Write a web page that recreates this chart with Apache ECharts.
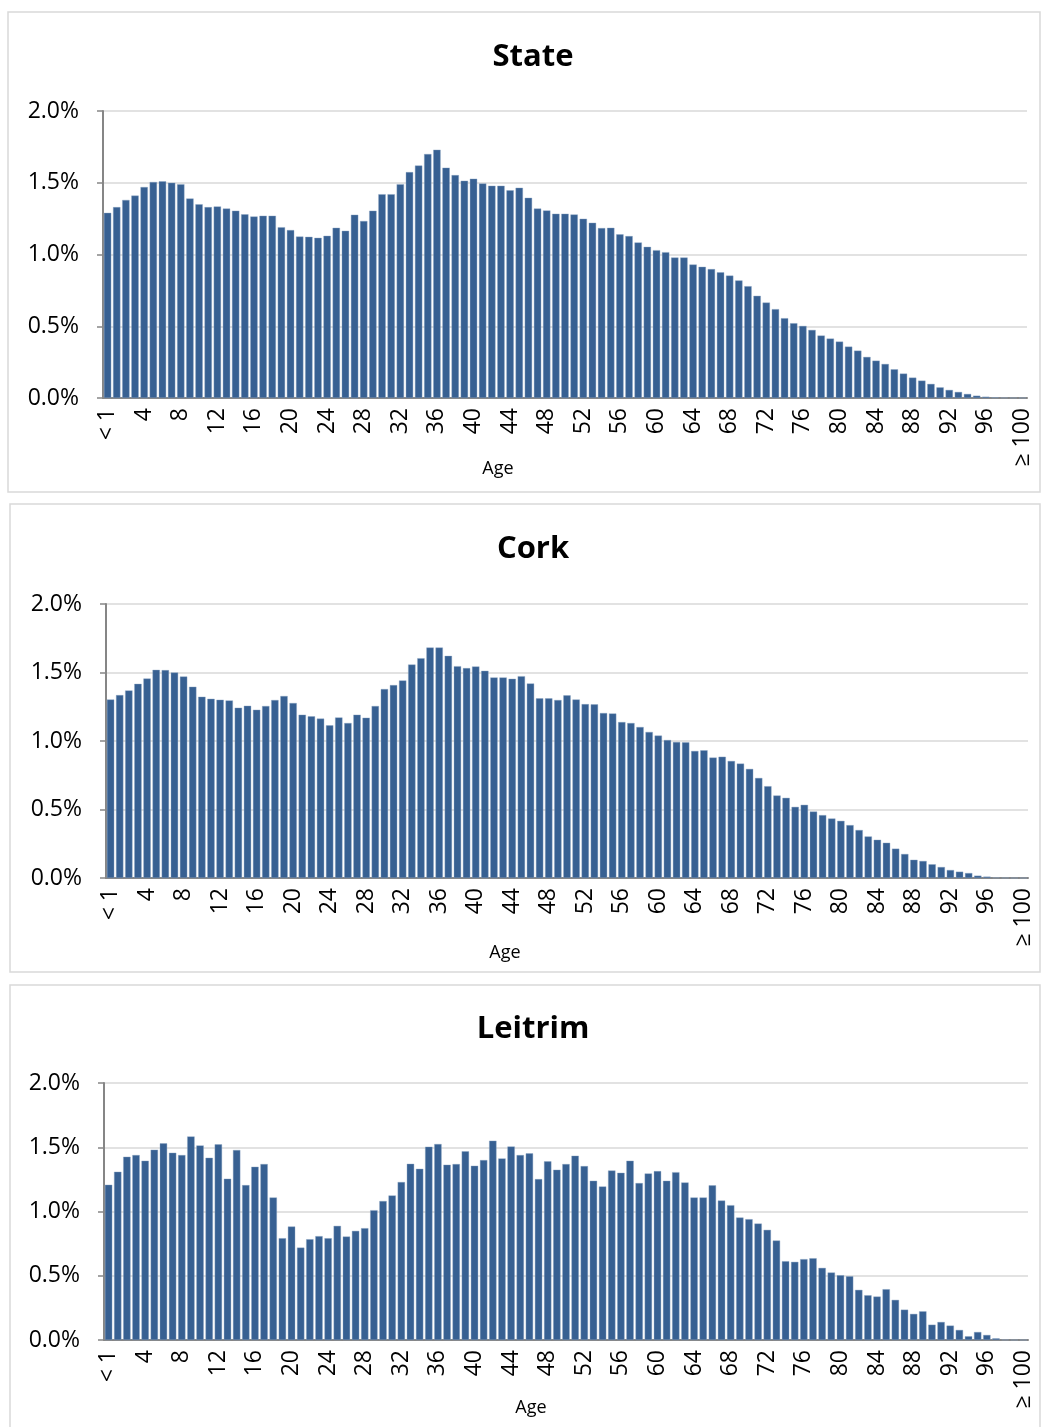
<!DOCTYPE html>
<html>
<head>
<meta charset="utf-8">
<script src="https://cdn.jsdelivr.net/npm/echarts@6/dist/echarts.min.js"></script>
<style>
  html, body { margin: 0; padding: 0; background: #fff; }
  #chart { width: 1043px; height: 1427px; }
</style>
</head>
<body>
<div id="chart"></div>
<script>
// age categories: "< 1", 1 .. 99, "≥ 100"
const ages = ['< 1'];
for (let a = 1; a < 100; a++) ages.push(String(a));
ages.push('≥ 100');

const yTickLabels = ['0.0%', '0.5%', '1.0%', '1.5%', '2.0%'];
const panelTitles = ['State', 'Cork', 'Leitrim'];
const axisTitle = 'Age';

// share of population by single year of age (%)
const stateValues = [
  1.29, 1.33, 1.38, 1.41, 1.47, 1.505, 1.51, 1.50, 1.49, 1.39,
  1.35, 1.33, 1.335, 1.32, 1.305, 1.28, 1.265, 1.27, 1.27, 1.19,
  1.17, 1.125, 1.123, 1.116, 1.13, 1.186, 1.165, 1.277, 1.233, 1.305,
  1.42, 1.42, 1.49, 1.574, 1.62, 1.70, 1.73, 1.605, 1.553, 1.514,
  1.528, 1.495, 1.479, 1.479, 1.447, 1.465, 1.395, 1.32, 1.307, 1.284,
  1.284, 1.279, 1.249, 1.221, 1.184, 1.186, 1.14, 1.128, 1.084, 1.053,
  1.03, 1.016, 0.979, 0.979, 0.93, 0.914, 0.898, 0.876, 0.853, 0.819,
  0.779, 0.712, 0.665, 0.619, 0.556, 0.521, 0.502, 0.474, 0.435, 0.414,
  0.393, 0.358, 0.33, 0.286, 0.26, 0.237, 0.2, 0.17, 0.142, 0.121,
  0.098, 0.074, 0.056, 0.042, 0.028, 0.016, 0.009, 0.004, 0.002, 0.001,
  0.001
];
const corkValues = [
  1.303, 1.335, 1.369, 1.417, 1.456, 1.519, 1.517, 1.50, 1.471, 1.396,
  1.323, 1.308, 1.301, 1.296, 1.243, 1.257, 1.228, 1.255, 1.299, 1.328,
  1.277, 1.192, 1.18, 1.163, 1.114, 1.172, 1.131, 1.192, 1.17, 1.255,
  1.379, 1.408, 1.442, 1.558, 1.604, 1.682, 1.682, 1.621, 1.546, 1.532,
  1.544, 1.512, 1.464, 1.464, 1.454, 1.473, 1.42, 1.311, 1.311, 1.299,
  1.333, 1.303, 1.269, 1.267, 1.204, 1.201, 1.138, 1.131, 1.102, 1.066,
  1.039, 1.007, 0.993, 0.99, 0.927, 0.932, 0.879, 0.885, 0.854, 0.835,
  0.796, 0.73, 0.67, 0.602, 0.585, 0.519, 0.534, 0.485, 0.459, 0.434,
  0.417, 0.386, 0.35, 0.303, 0.279, 0.257, 0.214, 0.175, 0.133, 0.124,
  0.1, 0.08, 0.058, 0.046, 0.036, 0.017, 0.01, 0.003, 0.001, 0.0,
  0.0
];
const leitrimValues = [
  1.208, 1.309, 1.426, 1.439, 1.395, 1.481, 1.53, 1.457, 1.439, 1.584,
  1.514, 1.418, 1.522, 1.255, 1.478, 1.205, 1.348, 1.369, 1.109, 0.792,
  0.883, 0.719, 0.784, 0.808, 0.792, 0.888, 0.805, 0.849, 0.87, 1.01,
  1.081, 1.125, 1.229, 1.371, 1.332, 1.504, 1.525, 1.364, 1.369, 1.468,
  1.356, 1.4, 1.551, 1.413, 1.506, 1.439, 1.452, 1.252, 1.39, 1.325,
  1.369, 1.434, 1.353, 1.239, 1.195, 1.319, 1.301, 1.395, 1.221, 1.296,
  1.314, 1.239, 1.306, 1.226, 1.109, 1.109, 1.203, 1.085, 1.049, 0.953,
  0.94, 0.906, 0.857, 0.774, 0.613, 0.608, 0.629, 0.636, 0.561, 0.525,
  0.504, 0.496, 0.39, 0.348, 0.338, 0.395, 0.312, 0.236, 0.203, 0.223,
  0.119, 0.14, 0.112, 0.078, 0.029, 0.062, 0.039, 0.013, 0.002, 0.0,
  0.0
];

const seriesValues = [stateValues, corkValues, leitrimValues];

const fontFamily = '"Open Sans", "Liberation Sans", sans-serif';
const axisGray = '#868686';
const gridGray = '#d9d9d9';
const barBlue = '#376092';

// panel layout (pixels)
const panels = [
  { box: [8, 12, 1032, 480], grid: { left: 103, top: 111, width: 924, height: 287 }, titleY: 57, ageX: 498, ageY: 469 },
  { box: [10, 504, 1030, 468], grid: { left: 106, top: 604, width: 922, height: 274 }, titleY: 549, ageX: 505, ageY: 953 },
  { box: [10, 985, 1030, 460], grid: { left: 104, top: 1083, width: 924, height: 257 }, titleY: 1029, ageX: 531, ageY: 1408 }
];

const chart = echarts.init(document.getElementById('chart'));

const graphic = [];
panels.forEach((p, i) => {
  graphic.push({
    type: 'rect',
    shape: { x: p.box[0], y: p.box[1], width: p.box[2], height: p.box[3] },
    style: { fill: 'none', stroke: gridGray, lineWidth: 1.5 },
    z: -1
  });
  graphic.push({
    type: 'text',
    x: 533, y: p.titleY,
    style: {
      text: panelTitles[i], fill: '#000', font: 'bold 31px ' + fontFamily,
      textAlign: 'center', textVerticalAlign: 'middle'
    }
  });
  graphic.push({
    type: 'text',
    x: p.ageX, y: p.ageY,
    style: {
      text: axisTitle, fill: '#000', font: '18px ' + fontFamily,
      textAlign: 'center', textVerticalAlign: 'middle'
    }
  });
});

chart.setOption({
  animation: false,
  backgroundColor: '#fff',
  graphic: graphic,
  grid: panels.map(p => Object.assign({ containLabel: false }, p.grid)),
  xAxis: panels.map((p, i) => ({
    type: 'category',
    gridIndex: i,
    data: ages,
    boundaryGap: true,
    axisLine: { lineStyle: { color: axisGray, width: 2 } },
    axisTick: { interval: 0, length: 6, lineStyle: { color: axisGray, width: 1.5 } },
    axisLabel: {
      interval: 3,
      rotate: 90,
      margin: 10,
      color: '#000',
      fontSize: 23,
      fontFamily: fontFamily
    },
    splitLine: { show: false }
  })),
  yAxis: panels.map((p, i) => ({
    type: 'value',
    gridIndex: i,
    min: 0,
    max: 2.0,
    interval: 0.5,
    axisLine: { show: true, lineStyle: { color: axisGray, width: 2 } },
    axisTick: { show: true, length: 6, lineStyle: { color: axisGray, width: 1.5 } },
    axisLabel: {
      margin: 24,
      color: '#000',
      fontSize: 23,
      fontFamily: fontFamily,
      formatter: v => yTickLabels[Math.round(v / 0.5)]
    },
    splitLine: { lineStyle: { color: gridGray, width: 1.5 } }
  })),
  series: seriesValues.map((vals, i) => ({
    type: 'bar',
    xAxisIndex: i,
    yAxisIndex: i,
    data: vals,
    barCategoryGap: '20%',
    itemStyle: { color: barBlue, borderColor: '#8aa3c2', borderWidth: 0.4 }
  }))
});
</script>
</body>
</html>
